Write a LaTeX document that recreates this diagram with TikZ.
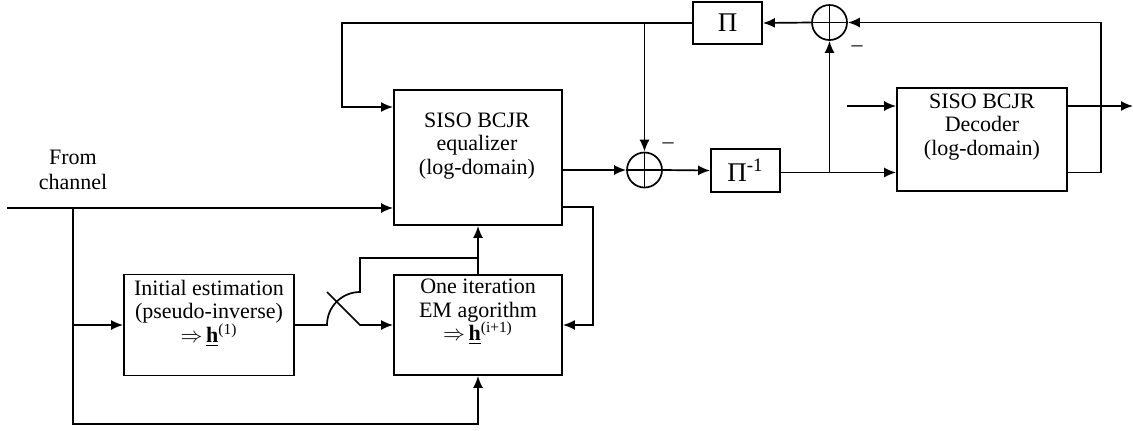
\documentclass[tikz,border=0pt]{standalone}
\usepackage{fontspec}
\setmainfont{Liberation Serif}
\usetikzlibrary{arrows.meta}
\begin{document}
\begin{tikzpicture}[x=0.5pt,y=-0.5pt,
  line width=0.85pt,
  arr/.style={-{Latex[length=6pt,width=5pt]}},
  blk/.style={draw, rectangle, inner sep=0pt, line width=0.9pt},
  adder/.style={draw, circle, minimum size=17.5pt, inner sep=0pt,
    path picture={\draw[line width=0.85pt] (path picture bounding box.north) -- (path picture bounding box.south)
      (path picture bounding box.west) -- (path picture bounding box.east);}},
  txt/.style={align=center, font=\fontsize{11}{11.8}\selectfont, inner sep=0pt},
  lbl/.style={font=\fontsize{11}{12}\selectfont, inner sep=0pt}
]
\useasboundingbox (0,0) rectangle (1133,430);

% blocks
\node[blk, minimum width=84pt, minimum height=67.5pt] (eq) at (478,157.5) {};
\node[blk, minimum width=85pt, minimum height=51.5pt] (dec) at (982,139.5) {};
\node[blk, minimum width=85pt, minimum height=50.5pt] (init) at (209,325) {};
\node[blk, minimum width=84pt, minimum height=50pt] (em) at (478,325) {};
\node[blk, minimum width=34.5pt, minimum height=21pt] (pi) at (727.5,23) {};
\node[blk, minimum width=34.5pt, minimum height=21.5pt] (pinv) at (745.5,170.5) {};
\node[adder] (add1) at (644.5,170) {};
\node[adder] (add2) at (829.5,22.5) {};

% texts
\node[txt] (eqt) at (477,146) {SISO BCJR\\equalizer\\(log-domain)};
\node[txt] (dect) at (982,127) {SISO BCJR\\Decoder\\(log-domain)};
\node[txt] (initt) at (209,313) {Initial estimation\\(pseudo-inverse)\\$\Rightarrow$\,\underline{\textbf{h}}\textsuperscript{(1)}};
\node[txt] (emt) at (478,312) {One iteration\\EM agorithm\\$\Rightarrow$\,\underline{\textbf{h}}\textsuperscript{(i+1)}};
\node[txt, font=\fontsize{11}{12.5}\selectfont] (from) at (73,170) {From\\channel};
\node[lbl, font=\fontsize{13.5}{14}\selectfont] (pit) at (pi) {Π};
\node[lbl, font=\fontsize{13.5}{14}\selectfont] (pinvt) at (pinv) {Π\textsuperscript{-1}};
\node[lbl] (m1) at (668,146) {\textendash};
\node[lbl] (m2) at (857,49) {\textendash};

% coordinates
\coordinate (in) at (7,208);
\coordinate (br) at (73,208);
\coordinate (bl) at (73,424);
\coordinate (fbk) at (342,23);
\coordinate (eqin) at (393,107);
\coordinate (eqo) at (593,207);
\coordinate (din) at (847,106);
\coordinate (dout) at (1133,106);
\coordinate (dfb) at (1101,172.5);
\coordinate (sw1) at (327,325);
\coordinate (swtop) at (360,258);
\coordinate (sa) at (327,292);
\coordinate (sb) at (360,325);

% connectors
\draw[arr] (in) -- (in -| eq.west);
\draw[arr] (br) -- (bl) -| (em.south);
\draw[arr] (br |- init.west) -- (init.west);
\draw[arr] (eq.east |- add1.west) -- (add1.west);
\draw[arr] (pi.west) -- (fbk) |- (eqin);
\draw[arr] (add1 |- pi.west) -- (add1.north);
\draw[arr] (add1.east) -- (pinv.west);
\draw[arr] (pinv.east |- dfb) -- (dfb -| dec.west);
\draw[arr] (add2 |- dfb) -- (add2.south);
\draw[arr] (add2.west) -- (pi.east);
\draw[arr] (dout -| dec.east) -- (dout);
\draw[arr] (din) -- (din -| dec.west);
\draw[arr] (dfb -| dec.east) -- (dfb) |- (add2.east);
\draw[arr] (eqo -| eq.east) -- (eqo) |- (em.east);
\draw[arr] (em.north) -- (eq.south);
\draw (init.east) -- (sw1) arc[start angle=180, end angle=90, radius=16.5pt] -- (swtop) -- (swtop -| em.north);
\draw[arr] (sa) -- (sb) -- (em.west);
\end{tikzpicture}
\end{document}
